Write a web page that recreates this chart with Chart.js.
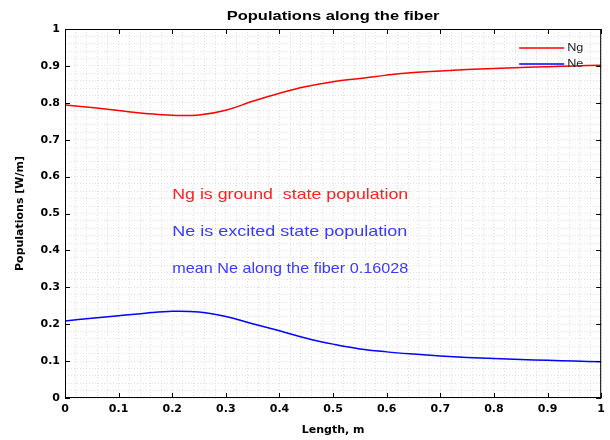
<!DOCTYPE html>
<html>
<head>
<meta charset="utf-8">
<script src="https://cdn.jsdelivr.net/npm/chart.js@4"></script>
<style>
  body { margin: 0; background: #fff; }
</style>
</head>
<body>
<canvas id="myChart" width="610" height="440"></canvas>
<script>
// fiber position (m) and populations
const lengths = [0, 0.05, 0.1, 0.15, 0.2, 0.25, 0.3, 0.35, 0.4, 0.45, 0.5,
  0.55, 0.6, 0.65, 0.7, 0.75, 0.8, 0.85, 0.9, 0.95, 1];
const ng = [0.794, 0.787, 0.779, 0.771, 0.766, 0.767, 0.780, 0.804, 0.826, 0.844, 0.857,
  0.866, 0.875, 0.882, 0.886, 0.890, 0.893, 0.896, 0.898, 0.900, 0.902];
const ne = [0.209, 0.216, 0.223, 0.230, 0.235, 0.233, 0.221, 0.201, 0.182, 0.162, 0.146,
  0.133, 0.125, 0.119, 0.114, 0.110, 0.107, 0.104, 0.102, 0.100, 0.098];
const majorTicks = [0, 0.1, 0.2, 0.3, 0.4, 0.5, 0.6, 0.7, 0.8, 0.9, 1];
const notes = [
  { text: "Ng is ground  state population", x: 0.2, y: 0.55, color: "#ff2020" },
  { text: "Ne is excited state population", x: 0.2, y: 0.45, color: "#3a3aff" },
  { text: "mean Ne along the fiber 0.16028", x: 0.2, y: 0.35, color: "#3a3aff" },
];

const FONT = "'Liberation Sans', Arial, sans-serif";
const AXFONT = "'DejaVu Sans', sans-serif";

function isMajor(v) {
  return Math.abs(v * 10 - Math.round(v * 10)) < 1e-6;
}

// the picture's text is stretched sideways, so stretch it the same way
function wideText(ctx, text, x, y, sx, maxW) {
  ctx.save();
  ctx.translate(x, y);
  ctx.scale(sx, 1);
  if (maxW) ctx.fillText(text, 0, 0, maxW / sx);
  else ctx.fillText(text, 0, 0);
  ctx.restore();
}

// box, inward ticks, legend and text notes, MATLAB style
const extras = {
  id: "extras",
  afterDatasetsDraw(chart) {
    const ctx = chart.ctx;
    const a = chart.chartArea;
    const xs = chart.scales.x;
    const ys = chart.scales.y;
    ctx.save();
    ctx.strokeStyle = "#000";
    ctx.lineWidth = 1;
    ctx.strokeRect(a.left + 0.5, a.top + 0.5, a.right - a.left - 1, a.bottom - a.top - 1);
    ctx.beginPath();
    majorTicks.forEach(function (t) {
      let px = Math.round(xs.getPixelForValue(t)) + 0.5;
      ctx.moveTo(px, a.bottom); ctx.lineTo(px, a.bottom - 5);
      ctx.moveTo(px, a.top); ctx.lineTo(px, a.top + 5);
      let py = Math.round(ys.getPixelForValue(t)) + 0.5;
      ctx.moveTo(a.left, py); ctx.lineTo(a.left + 5, py);
      ctx.moveTo(a.right, py); ctx.lineTo(a.right - 5, py);
    });
    ctx.stroke();

    // title
    ctx.fillStyle = "#000";
    ctx.font = "bold 13px " + FONT;
    ctx.textAlign = "center";
    ctx.textBaseline = "middle";
    wideText(ctx, "Populations along the fiber", (a.left + a.right) / 2, 16, 1.27);

    // legend
    ctx.font = "11px " + FONT;
    ctx.textAlign = "left";
    chart.data.datasets.forEach(function (ds, i) {
      let y = a.top + 19 + i * 16;
      ctx.strokeStyle = ds.borderColor;
      ctx.lineWidth = 1.5;
      ctx.beginPath();
      ctx.moveTo(a.right - 82, y);
      ctx.lineTo(a.right - 37, y);
      ctx.stroke();
      ctx.fillStyle = "#222";
      wideText(ctx, ds.label, a.right - 34, y, 1.15);
    });

    // notes
    ctx.font = "15px " + FONT;
    notes.forEach(function (n) {
      ctx.fillStyle = n.color;
      wideText(ctx, n.text, xs.getPixelForValue(n.x), ys.getPixelForValue(n.y), 1.2, 236);
    });
    ctx.restore();
  },
};

const gridOpts = {
  color: "#e0e0e0",
  lineWidth: 1,
  drawTicks: false,
};

new Chart(document.getElementById("myChart").getContext("2d"), {
  type: "line",
  data: {
    labels: lengths,
    datasets: [
      {
        label: "Ng",
        data: ng,
        borderColor: "#ff0000",
        borderWidth: 1.5,
        pointRadius: 0,
        tension: 0.4,
      },
      {
        label: "Ne",
        data: ne,
        borderColor: "#0000ff",
        borderWidth: 1.5,
        pointRadius: 0,
        tension: 0.4,
      },
    ],
  },
  options: {
    responsive: false,
    animation: false,
    layout: { padding: { top: 29, right: 7 } },
    plugins: {
      legend: { display: false },
      title: { display: false },
      tooltip: { enabled: false },
    },
    scales: {
      x: {
        type: "linear",
        min: 0,
        max: 1,
        grid: gridOpts,
        border: { display: false, dash: [1, 2] },
        ticks: {
          stepSize: 0.02,
          maxTicksLimit: 60,
          autoSkip: false,
          maxRotation: 0,
          padding: 5,
          color: "#000",
          font: { family: AXFONT, size: 11, weight: "bold" },
          callback: function (v) { return isMajor(v) ? String(Math.round(v * 10) / 10) : ""; },
        },
        title: {
          display: true,
          text: "Length, m",
          color: "#000",
          font: { family: AXFONT, size: 11, weight: "bold" },
          padding: { top: 0, bottom: 3 },
        },
        afterFit: function (scale) { scale.height = 42; },
      },
      y: {
        min: 0,
        max: 1,
        grid: gridOpts,
        border: { display: false, dash: [1, 2] },
        ticks: {
          stepSize: 0.02,
          maxTicksLimit: 60,
          autoSkip: false,
          padding: 5,
          color: "#000",
          font: { family: AXFONT, size: 11, weight: "bold" },
          callback: function (v) { return isMajor(v) ? String(Math.round(v * 10) / 10) : ""; },
        },
        title: {
          display: true,
          text: "Populations [W/m]",
          color: "#000",
          font: { family: AXFONT, size: 11, weight: "bold" },
          padding: { top: 14, bottom: 0 },
        },
        afterFit: function (scale) { scale.width = 65; },
      },
    },
  },
  plugins: [extras],
});
</script>
</body>
</html>
